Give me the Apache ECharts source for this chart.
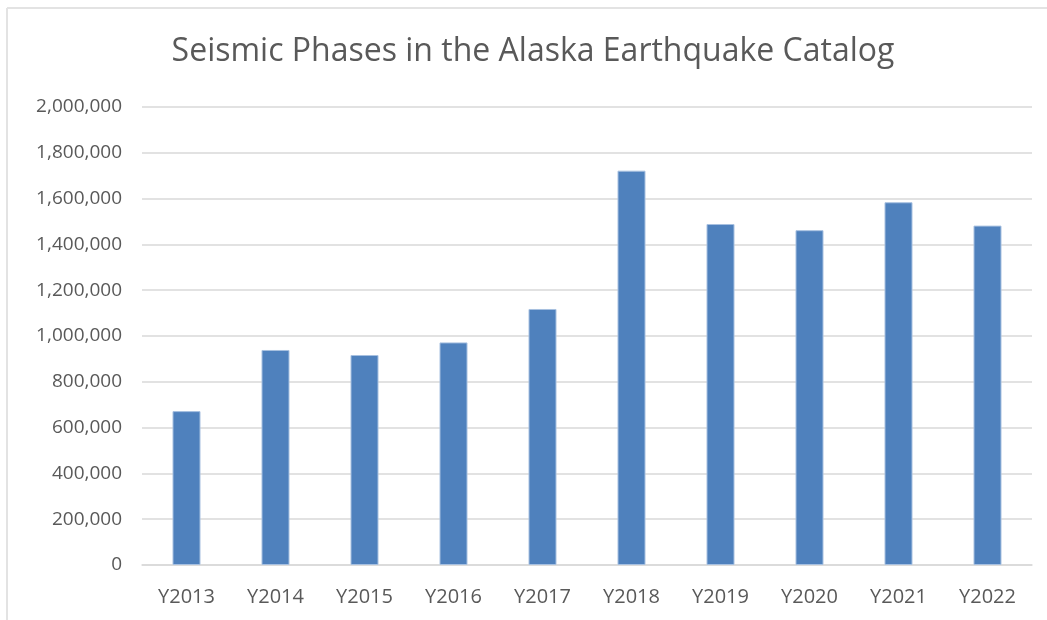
<!DOCTYPE html>
<html>
<head>
<meta charset="utf-8">
<script src="https://cdn.jsdelivr.net/npm/echarts@6/dist/echarts.min.js"></script>
<style>
  html, body { margin: 0; padding: 0; background: #ffffff; }
  #chart { width: 1047px; height: 620px; }
</style>
</head>
<body>
<div id="chart"></div>
<script>
// Seismic phase counts per year
const years = ['Y2013', 'Y2014', 'Y2015', 'Y2016', 'Y2017', 'Y2018', 'Y2019', 'Y2020', 'Y2021', 'Y2022'];
const phaseCounts = [672000, 939000, 917000, 972000, 1118000, 1722000, 1489000, 1462000, 1584000, 1482000];
const titleText = 'Seismic Phases in the Alaska Earthquake Catalog';

const chart = echarts.init(document.getElementById('chart'));
const textColor = '#595959';
const fontFamily = '"Open Sans", "Liberation Sans", sans-serif';

chart.setOption({
  animation: false,
  backgroundColor: '#ffffff',
  title: {
    text: titleText,
    left: 528,
    top: 31,
    textAlign: 'center',
    textStyle: { color: textColor, fontSize: 32, fontWeight: 'normal', fontFamily: fontFamily }
  },
  graphic: [
    { type: 'line', shape: { x1: 7, y1: 8, x2: 1047, y2: 8 }, style: { stroke: '#e3e3e3', lineWidth: 2 } },
    { type: 'line', shape: { x1: 7, y1: 8, x2: 7, y2: 620 }, style: { stroke: '#e3e3e3', lineWidth: 2 } }
  ],
  grid: { left: 142, right: 15, top: 107, bottom: 55, containLabel: false },
  xAxis: {
    type: 'category',
    data: years,
    axisLine: { show: true, lineStyle: { color: '#d9d9d9', width: 1.5 } },
    axisTick: { show: false },
    axisLabel: { color: textColor, fontSize: 20, fontFamily: fontFamily, margin: 22 }
  },
  yAxis: {
    type: 'value',
    min: 0,
    max: 2000000,
    interval: 200000,
    axisLine: { show: false },
    axisTick: { show: false },
    splitLine: { lineStyle: { color: '#d9d9d9', width: 1.5 } },
    axisLabel: {
      color: textColor, fontSize: 19, fontFamily: fontFamily, margin: 20,
      formatter: v => v.toLocaleString('en-US')
    }
  },
  series: [{
    type: 'bar',
    data: phaseCounts,
    barWidth: 28,
    itemStyle: { color: '#4f81bd', borderColor: '#a7c0e0', borderWidth: 1 }
  }]
});
</script>
</body>
</html>
